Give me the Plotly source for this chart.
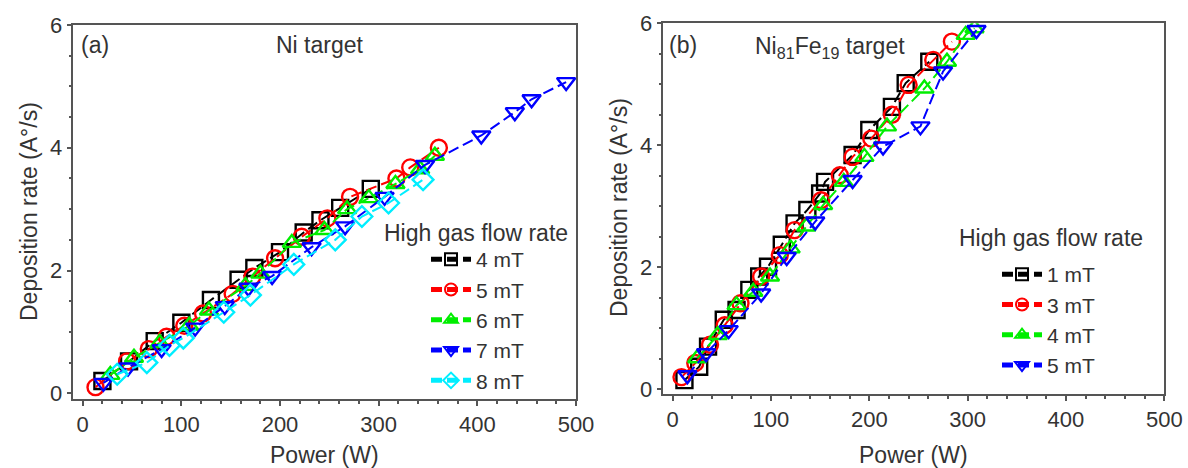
import plotly.graph_objects as go

# ---- Panel (a): Ni target ----
a_labels = ["4 mT", "5 mT", "6 mT", "7 mT", "8 mT"]
a4_x = [20, 47, 73, 100, 130, 158, 174, 200, 224, 241, 261, 292]
a4_y = [0.20, 0.52, 0.85, 1.15, 1.52, 1.85, 2.04, 2.30, 2.62, 2.82, 3.02, 3.33]
a5_x = [13, 45, 67, 85, 103, 122, 152, 172, 195, 222, 248, 271, 318, 332, 361]
a5_y = [0.10, 0.52, 0.72, 0.92, 1.10, 1.30, 1.62, 1.90, 2.20, 2.55, 2.85, 3.20, 3.50, 3.68, 4.00]
a6_x = [28, 52, 78, 108, 128, 165, 180, 212, 245, 268, 290, 317, 342, 357]
a6_y = [0.30, 0.58, 0.82, 1.10, 1.35, 1.75, 1.95, 2.45, 2.66, 3.00, 3.18, 3.41, 3.65, 3.87]
a7_x = [21, 46, 80, 114, 144, 168, 192, 232, 266, 306, 347, 404, 438, 455, 490]
a7_y = [0.17, 0.42, 0.72, 1.07, 1.42, 1.72, 1.91, 2.38, 2.72, 3.20, 3.72, 4.20, 4.58, 4.79, 5.07]
a8_x = [35, 65, 88, 102, 143, 170, 214, 256, 283, 310, 345]
a8_y = [0.31, 0.50, 0.78, 0.90, 1.32, 1.60, 2.10, 2.50, 2.88, 3.10, 3.48]

# ---- Panel (b): Ni81Fe19 target ----
b_labels = ["1 mT", "3 mT", "4 mT", "5 mT"]
b1_x = [12, 27, 36, 52, 65, 78, 88, 97, 111, 124, 137, 150, 155, 183, 200, 223, 237, 261]
b1_y = [0.15, 0.37, 0.70, 1.14, 1.30, 1.63, 1.85, 2.01, 2.37, 2.72, 2.94, 3.21, 3.40, 3.84, 4.25, 4.63, 5.02, 5.37]
b3_x = [9, 23, 38, 53, 69, 90, 109, 124, 151, 170, 183, 202, 223, 240, 265, 284]
b3_y = [0.20, 0.43, 0.73, 1.05, 1.41, 1.85, 2.20, 2.61, 3.10, 3.51, 3.81, 4.11, 4.50, 4.99, 5.40, 5.70]
b4_x = [25, 46, 65, 82, 99, 120, 136, 153, 174, 195, 218, 256, 279, 298, 307]
b4_y = [0.51, 0.89, 1.38, 1.60, 1.85, 2.31, 2.67, 3.02, 3.40, 3.81, 4.31, 4.93, 5.37, 5.81, 5.92]
b5_x = [15, 34, 57, 90, 116, 145, 183, 214, 252, 275, 309]
b5_y = [0.23, 0.59, 0.97, 1.57, 2.17, 2.75, 3.43, 3.98, 4.31, 5.21, 5.89]

colors_a = ["#000000", "#ff0000", "#00ee00", "#0000ff", "#00eeff"]
symbols_a = ["square", "circle", "triangle-up", "triangle-down", "diamond"]
colors_b = ["#000000", "#ff0000", "#00ee00", "#0000ff"]
symbols_b = ["square", "circle", "triangle-up", "triangle-down"]

FONT = "Arial, Liberation Sans, sans-serif"
TXT = "#333333"
fig = go.Figure()

def add(xs, ys, name, color, sym, xa, ya, leg):
    fig.add_trace(go.Scatter(
        x=xs, y=ys, name=name, mode="lines+markers",
        xaxis=xa, yaxis=ya, legend=leg,
        line=dict(color=color, width=2, dash="11px,5px"),
        marker=dict(symbol=sym, size=16, color="rgba(255,255,255,0)",
                    line=dict(color=color, width=2.4)),
    ))

a_data = [(a4_x, a4_y), (a5_x, a5_y), (a6_x, a6_y), (a7_x, a7_y), (a8_x, a8_y)]
for (xs, ys), lab, c, s in zip(a_data, a_labels, colors_a, symbols_a):
    add(xs, ys, lab, c, s, "x", "y", "legend")
b_data = [(b1_x, b1_y), (b3_x, b3_y), (b4_x, b4_y), (b5_x, b5_y)]
for (xs, ys), lab, c, s in zip(b_data, b_labels, colors_b, symbols_b):
    add(xs, ys, lab, c, s, "x2", "y2", "legend2")

W, H = 1188, 468
def px(x): return x / W
def py(y): return (H - y) / H

axis_common = dict(
    showgrid=False, zeroline=False, showline=True, mirror=True, automargin=False,
    linecolor="#555555", linewidth=1.5, ticks="outside", ticklen=5,
    tickwidth=1.5, tickcolor="#555555",
    tickfont=dict(family=FONT, size=22, color=TXT),
    minor=dict(ticks="outside", ticklen=3, tickcolor="#555555", tickwidth=1.5),
)

leg_common = dict(xanchor="left", yanchor="top", bgcolor="rgba(0,0,0,0)",
                  font=dict(family=FONT, size=21, color=TXT),
                  itemsizing="constant", itemwidth=40, tracegroupgap=0)

fig.update_layout(
    width=W, height=H, autosize=False,
    margin=dict(l=0, r=0, t=0, b=0),
    paper_bgcolor="white", plot_bgcolor="white",
    font=dict(family=FONT, color=TXT),
    xaxis=dict(domain=[px(73.3), px(576)], range=[-9.5, 500], dtick=100,
               anchor="y", **axis_common),
    yaxis=dict(domain=[py(399), py(25)], range=[-0.093, 6], dtick=2,
               anchor="x", **axis_common),
    xaxis2=dict(domain=[px(663.3), px(1164.3)], range=[-9.5, 500], dtick=100,
                anchor="y2", **axis_common),
    yaxis2=dict(domain=[py(394.3), py(23.3)], range=[-0.082, 6], dtick=2,
                anchor="x2", **axis_common),
    legend=dict(x=px(426), y=py(239), **leg_common),
    legend2=dict(x=px(997), y=py(254), **leg_common),
    showlegend=True,
)

anns = [
    dict(text="(a)", x=px(79), y=py(45), xanchor="left"),
    dict(text="Ni target", x=px(320), y=py(45), xanchor="center"),
    dict(text="(b)", x=px(667), y=py(45), xanchor="left"),
    dict(text="Ni<sub>81</sub>Fe<sub>19</sub> target", x=px(753), y=py(48), xanchor="left"),
    dict(text="High gas flow rate", x=px(382), y=py(233), xanchor="left"),
    dict(text="High gas flow rate", x=px(957), y=py(238), xanchor="left"),
    dict(text="Power (W)", x=px(324), y=py(455), xanchor="center"),
    dict(text="Power (W)", x=px(913), y=py(455), xanchor="center"),
    dict(text="Deposition rate (A°/s)", x=px(29), y=py(212), xanchor="center", textangle=-90),
    dict(text="Deposition rate (A°/s)", x=px(619), y=py(208), xanchor="center", textangle=-90),
]
for a in anns:
    fig.add_annotation(xref="paper", yref="paper", yanchor="middle", showarrow=False,
                       font=dict(family=FONT, size=23, color=TXT), **a)

fig.write_html(
    "out.html",
    config={"displayModeBar": False},
    post_script="document.body.style.margin='0';document.body.style.overflow='hidden';",
)
